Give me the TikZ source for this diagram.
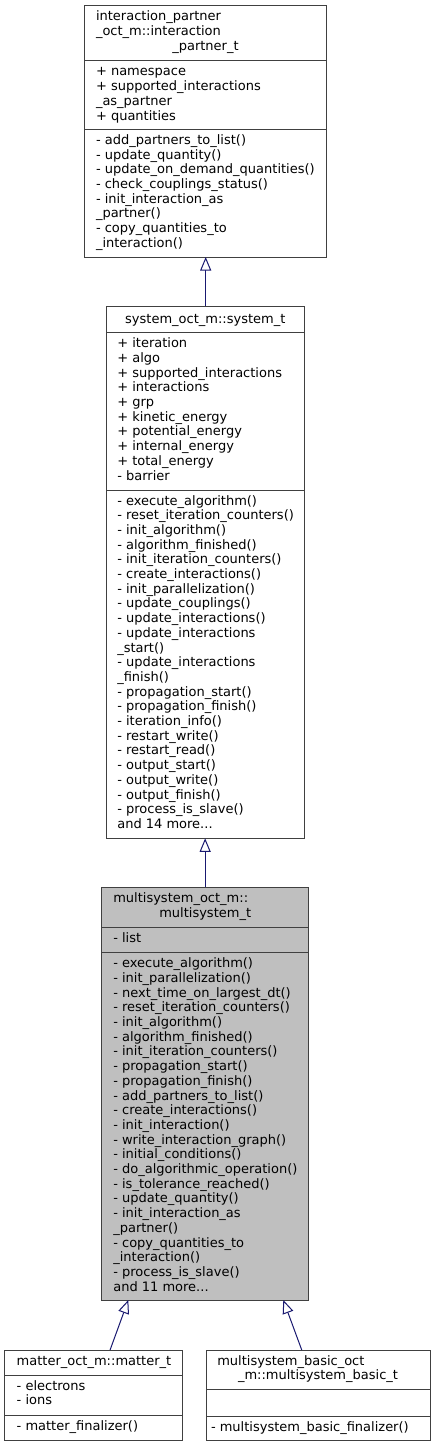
\documentclass[tikz,border=0pt]{standalone}
\usepackage{fontspec}
\newfontfamily\djv{DejaVu Sans}
\usetikzlibrary{arrows.meta,calc}
\definecolor{edgeblue}{HTML}{191970}
\definecolor{boxline}{HTML}{404040}
\definecolor{boxfill}{HTML}{BFBFBF}
\tikzset{
  umlbox/.style={draw=boxline, line width=1pt, rectangle, inner sep=0pt, outer sep=0pt, anchor=north west},
  sepline/.style={draw=boxline, line width=1pt},
  txt/.style={anchor=base west, inner sep=0pt, outer sep=0pt, font=\djv\fontsize{13}{14.7}\selectfont},
  ctxt/.style={txt, anchor=base},
  inh/.style={draw=edgeblue, line width=1pt, -{Triangle[length=13.5pt,width=11pt,fill=white]}},
}
\newcommand\mylines[4]{%
  \foreach \t [count=\i] in {#4} \node[txt] (#1-\i) at (#2, {-(#3)-14.7*(\i-1)}) {\t};}
\begin{document}
\begin{tikzpicture}[x=1pt,y=1pt]
\useasboundingbox (0,0) rectangle (435,-1447);
% Box 1
\node[umlbox, minimum width=242pt, minimum height=251pt] (b1) at (84.7,-6) {};
\draw[sepline] (84.7,-61) -- (326.7,-61);
\draw[sepline] (84.7,-129.5) -- (326.7,-129.5);
\node[txt] (b1t1) at (96,-21) {interaction\_partner};
\node[txt] (b1t2) at (96,-35.7) {\_oct\_m::interaction};
\node[ctxt] (b1t3) at (205.5,-50.4) {\_partner\_t};
\mylines{b1a}{96}{76}{{+ namespace},{+ supported\_interactions},{\_as\_partner},{+ quantities}}
\mylines{b1m}{96}{144.5}{{- add\_partners\_to\_list()},{- update\_quantity()},{- update\_on\_demand\_quantities()},{- check\_couplings\_status()},{- init\_interaction\_as},{\_partner()},{- copy\_quantities\_to},{\_interaction()}}
% Box 2
\node[umlbox, minimum width=198.3pt, minimum height=532.3pt] (b2) at (106,-306) {};
\draw[sepline] (106,-332.7) -- (304.3,-332.7);
\draw[sepline] (106,-490) -- (304.3,-490);
\node[ctxt] (b2t) at (205.3,-323) {system\_oct\_m::system\_t};
\mylines{b2a}{117.3}{347.7}{{+ iteration},{+ algo},{+ supported\_interactions},{+ interactions},{+ grp},{+ kinetic\_energy},{+ potential\_energy},{+ internal\_energy},{+ total\_energy},{- barrier}}
\mylines{b2m}{117.3}{505}{{- execute\_algorithm()},{- reset\_iteration\_counters()},{- init\_algorithm()},{- algorithm\_finished()},{- init\_iteration\_counters()},{- create\_interactions()},{- init\_parallelization()},{- update\_couplings()},{- update\_interactions()},{- update\_interactions},{\_start()},{- update\_interactions},{\_finish()},{- propagation\_start()},{- propagation\_finish()},{- iteration\_info()},{- restart\_write()},{- restart\_read()},{- output\_start()},{- output\_write()},{- output\_finish()},{- process\_is\_slave()},{and 14 more.{}.{}.}}
% Box 3
\node[umlbox, fill=boxfill, minimum width=206.6pt, minimum height=412.7pt] (b3) at (101.7,-887.3) {};
\draw[sepline] (101.7,-927.3) -- (308.3,-927.3);
\draw[sepline] (101.7,-952.7) -- (308.3,-952.7);
\node[txt] (b3t1) at (113.3,-902.3) {multisystem\_oct\_m::};
\node[txt] (b3t2) at (159.3,-917) {multisystem\_t};
\node[txt] (b3a) at (113.3,-942.3) {- list};
\mylines{b3m}{113.3}{967.7}{{- execute\_algorithm()},{- init\_parallelization()},{- next\_time\_on\_largest\_dt()},{- reset\_iteration\_counters()},{- init\_algorithm()},{- algorithm\_finished()},{- init\_iteration\_counters()},{- propagation\_start()},{- propagation\_finish()},{- add\_partners\_to\_list()},{- create\_interactions()},{- init\_interaction()},{- write\_interaction\_graph()},{- initial\_conditions()},{- do\_algorithmic\_operation()},{- is\_tolerance\_reached()},{- update\_quantity()},{- init\_interaction\_as},{\_partner()},{- copy\_quantities\_to},{\_interaction()},{- process\_is\_slave()},{and 11 more.{}.{}.}}
% Box 4
\node[umlbox, minimum width=177.3pt, minimum height=90pt] (b4) at (4.7,-1350) {};
\draw[sepline] (4.7,-1375) -- (182,-1375);
\draw[sepline] (4.7,-1415.7) -- (182,-1415.7);
\node[ctxt] (b4t) at (94,-1365) {matter\_oct\_m::matter\_t};
\mylines{b4a}{16.7}{1390}{{- electrons},{- ions}}
\node[txt] (b4m) at (16.7,-1430.7) {- matter\_finalizer()};
% Box 5
\node[umlbox, minimum width=223.3pt, minimum height=90pt] (b5) at (206.7,-1350) {};
\draw[sepline] (206.7,-1389) -- (430,-1389);
\draw[sepline] (206.7,-1416) -- (430,-1416);
\node[txt] (b5t1) at (217.3,-1365) {multisystem\_basic\_oct};
\node[ctxt] (b5t2) at (318,-1379.7) {\_m::multisystem\_basic\_t};
\node[txt] (b5m) at (211,-1431) {- multisystem\_basic\_finalizer()};
% Inheritance arrows
\draw[inh] (b1.south |- b2.north) -- (b1.south);
\draw[inh] (b2.south |- b3.north) -- (b2.south);
\draw[inh] ($(b4.north)+(16.7,0)$) -- ($(b3.south)+(-76.7,0)$);
\draw[inh] ($(b5.north)+(-16.6,0)$) -- ($(b3.south)+(78.3,0)$);
\end{tikzpicture}
\end{document}
